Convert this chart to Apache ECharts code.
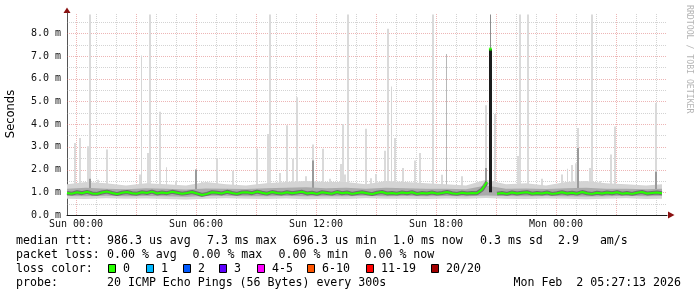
<!DOCTYPE html>
<html><head><meta charset="utf-8">
<script src="https://cdn.jsdelivr.net/npm/echarts@6/dist/echarts.min.js"></script>
<style>html,body{margin:0;padding:0;background:#fff}#c{width:697px;height:297px}</style>
</head><body><div id="c"></div><script>
// ---------- data ----------
const xTickHours = [0, 6, 12, 18, 24];
const xTickLabels = ['Sun 00:00', 'Sun 06:00', 'Sun 12:00', 'Sun 18:00', 'Mon 00:00'];
const yTickValues = [0, 1, 2, 3, 4, 5, 6, 7, 8];
const yTickUnit = ' m';
const yAxisTitle = 'Seconds';

// median rtt (ms), one value every 15 minutes starting Sat 23:33
const medianStartHour = -0.45;
const medianStepHours = 0.25;
const medianMs = [
  0.97, 0.94, 1.00, 0.96, 1.02, 0.95, 0.93, 0.99, 1.03, 0.97, 0.92, 0.98,
  1.01, 0.96, 0.94, 1.00, 0.97, 1.03, 0.95, 0.99, 0.96, 1.02, 0.98, 0.94,
  0.97, 1.01, 0.95, 0.88, 0.93, 1.00, 0.98, 0.95, 1.02, 0.97, 0.93, 0.99,
  1.00, 0.96, 1.03, 0.98, 0.94, 1.01, 0.97, 0.95, 1.00, 0.96, 0.99, 1.02,
  0.95, 0.98, 0.93, 1.00, 0.97, 0.94, 1.01, 0.96, 0.99, 0.93, 0.97, 1.00,
  0.96, 0.92, 0.98, 1.01, 0.95, 0.97, 0.94, 0.99, 0.96, 1.00, 0.93, 0.97,
  0.95, 0.99, 0.94, 0.97, 1.01, 0.96, 0.93, 0.98, 0.95, 0.97, 0.96, 1.12,
  1.45, null, 0.94, 0.97, 0.93, 0.99, 0.95, 0.98, 1.00, 0.94, 0.97, 0.95,
  0.99, 0.93, 0.96, 1.00, 0.95, 0.98, 0.94, 1.01, 0.96, 0.93, 0.98, 0.95,
  0.99, 0.96, 1.00, 0.94, 0.97, 0.93, 0.98, 1.01, 0.95, 0.97, 0.99, 0.96
];
// the one high median sample (hour, ms)
const medianPeak = [[20.72, 7.3]];
// dense smoke under the peak [hour, low, high]
const peakBar = [[20.72, 1.0, 7.3]];
const peakTail = [[20.72, 7.3, 8.82]];

// smoke bands (ms), sampled hourly
const smokeHours = [-0.45, 0.5, 1.5, 2.5, 3.5, 4.5, 5.5, 6.5, 7.5, 8.5, 9.5, 10.5, 11.5, 12.5, 13.5, 14.5,
  15.5, 16.5, 17.5, 18.5, 19.5, 20.5, 21.5, 22.5, 23.5, 24.5, 25.5, 26.5, 27.5, 28.5, 29.3];
const smokeOuterHigh = [1.35, 1.45, 1.40, 1.30, 1.40, 1.35, 1.30, 1.45, 1.35, 1.30, 1.40, 1.45, 1.50, 1.45, 1.45, 1.35,
  1.50, 1.45, 1.40, 1.35, 1.30, 1.55, 1.35, 1.40, 1.30, 1.45, 1.50, 1.40, 1.35, 1.30, 1.35];
const smokeOuterLow = [0.72, 0.70, 0.74, 0.71, 0.73, 0.70, 0.68, 0.72, 0.74, 0.71, 0.70, 0.73, 0.69, 0.72, 0.70, 0.74,
  0.71, 0.72, 0.70, 0.73, 0.71, 0.75, 0.72, 0.70, 0.73, 0.71, 0.69, 0.72, 0.74, 0.70, 0.72];
const smokeInnerHigh = [1.16, 1.20, 1.15, 1.13, 1.18, 1.15, 1.12, 1.17, 1.15, 1.14, 1.18, 1.20, 1.22, 1.18, 1.20, 1.15,
  1.20, 1.18, 1.16, 1.15, 1.13, 1.30, 1.15, 1.17, 1.14, 1.18, 1.20, 1.16, 1.15, 1.13, 1.15];
const smokeInnerLow = [0.84, 0.82, 0.85, 0.83, 0.84, 0.82, 0.80, 0.84, 0.85, 0.83, 0.82, 0.84, 0.82, 0.83, 0.82, 0.85,
  0.83, 0.84, 0.82, 0.84, 0.83, 0.86, 0.84, 0.82, 0.84, 0.83, 0.81, 0.83, 0.85, 0.82, 0.84];

// high ping outliers [hour, low ms, high ms]
const spikesWide = [
  [-0.07, 1.0, 3.17], [0.19, 1.0, 3.39], [0.6, 1.0, 3.03], [0.7, 1.0, 8.82], [1.08, 1.0, 1.55], [1.55, 1.0, 2.88],
  [3.2, 1.0, 1.78], [3.6, 1.0, 2.73], [3.7, 1.0, 8.82], [4.2, 1.0, 4.54], [5.0, 1.0, 1.5], [6.3, 1.0, 1.45],
  [7.07, 1.0, 2.48], [7.85, 1.0, 1.95], [9.07, 1.0, 2.92], [9.6, 1.0, 3.57], [9.7, 1.0, 8.82], [10.2, 1.0, 1.85],
  [10.57, 1.0, 3.95], [10.85, 1.0, 2.48], [11.07, 1.0, 5.18], [11.5, 1.0, 1.7], [11.85, 1.0, 3.1], [12.35, 1.0, 2.92],
  [12.7, 1.0, 1.6], [13.25, 1.0, 2.25], [13.35, 1.0, 4.0], [13.45, 1.0, 1.78], [13.6, 1.0, 8.82], [14.5, 1.0, 3.8],
  [14.75, 1.0, 1.62], [15.0, 1.0, 1.8], [15.45, 1.0, 2.83], [15.6, 1.0, 8.2], [15.95, 1.0, 3.39], [16.35, 1.0, 2.07],
  [16.95, 1.0, 2.4], [17.2, 1.0, 2.73], [17.85, 1.0, 8.82], [18.3, 1.0, 1.77], [19.3, 1.0, 1.7], [20.5, 1.0, 4.83],
  [20.95, 1.0, 4.45], [22.1, 1.0, 2.6], [22.2, 1.0, 8.82], [22.6, 1.0, 8.82], [23.3, 1.0, 1.6], [24.3, 1.0, 1.78],
  [24.8, 1.0, 2.2], [25.0, 1.0, 2.28], [25.1, 1.0, 3.83], [25.7, 1.0, 2.07], [25.8, 1.0, 8.82], [26.2, 1.0, 1.5],
  [26.75, 1.0, 2.66], [26.95, 1.0, 3.89], [29.0, 1.0, 4.93]
];
const spikesThin = [
  [3.28, 1.0, 7.02], [4.5, 1.0, 2.1], [15.75, 1.0, 5.65], [24.55, 1.0, 2.03]
];
const spikesGrey = [
  [18.5, 1.0, 7.09]
];
const spikesDark = [
  [6.0, 1.1, 2.0], [11.85, 1.1, 2.4], [20.5, 1.1, 2.07], [25.1, 1.1, 2.95], [29.0, 1.1, 1.9], [0.7, 1.1, 1.6]
];

// legend / text
const statsMedian = ['median rtt:', '986.3 us avg', '7.3 ms max', '696.3 us min', '1.0 ms now', '0.3 ms sd', '2.9   am/s'];
const statsLoss = ['packet loss:', '0.00 % avg', '0.00 % max', '0.00 % min', '0.00 % now'];
const lossTitle = 'loss color:';
const lossLabels = ['0', '1', '2', '3', '4-5', '6-10', '11-19', '20/20'];
const probeLine = ['probe:', '20 ICMP Echo Pings (56 Bytes) every 300s'];
const stampText = 'Mon Feb  2 05:27:13 2026';
const watermark = 'RRDTOOL / TOBI OETIKER';

// ---------- styling / layout ----------
const lossColors = ['#26ff00', '#00b8ff', '#0059ff', '#5e00ff', '#ff00ff', '#ff5500', '#ff0000', '#a10000'];
const MAJ = 'rgba(215,90,90,0.45)', MIN = 'rgba(150,150,150,0.42)';
const X_MIN = -0.45, X_MAX = 29.55, Y_MAX = 8.89;
const MONO = '"DejaVu Sans Mono", monospace';

const chart = echarts.init(document.getElementById('c'), null, { renderer: 'canvas', width: 697, height: 297 });

function vGrid(hours, color, z) {
  return { type: 'custom', z, silent: true, data: hours.map(h => [h, 0]),
    renderItem: (p, api) => {
      const a = api.coord([api.value(0), 0]), b = api.coord([api.value(0), Y_MAX]);
      const x = Math.round(a[0]) + 0.5;
      return { type: 'line', shape: { x1: x, y1: a[1], x2: x, y2: b[1] }, style: { stroke: color, lineWidth: 1, lineDash: [1, 1] } };
    } };
}
function hGrid(vals, color, z) {
  return { type: 'custom', z, silent: true, data: vals.map(v => [X_MIN, v]),
    renderItem: (p, api) => {
      const a = api.coord([X_MIN, api.value(1)]), b = api.coord([X_MAX, api.value(1)]);
      const y = Math.round(a[1]) + 0.5;
      return { type: 'line', shape: { x1: a[0], y1: y, x2: b[0], y2: y }, style: { stroke: color, lineWidth: 1, lineDash: [1, 1] } };
    } };
}
function spikeSeries(list, color, w, z) {
  return { type: 'custom', z, silent: true, data: list, encode: { x: 0, y: [1, 2] },
    renderItem: (p, api) => {
      const t = api.value(0);
      const lo = api.coord([t, api.value(1)]), hi = api.coord([t, api.value(2)]);
      const x = Math.round(lo[0] - w / 2);
      return { type: 'rect', shape: { x, y: hi[1], width: w, height: lo[1] - hi[1] }, style: { fill: color } };
    } };
}
function bandSeries(times, lo, hi, color, z) {
  return { type: 'custom', z, silent: true, data: [[times[0], lo[0]]],
    renderItem: (p, api) => {
      const pts = [];
      for (let i = 0; i < times.length; i++) pts.push(api.coord([times[i], hi[i]]));
      for (let i = times.length - 1; i >= 0; i--) pts.push(api.coord([times[i], lo[i]]));
      return { type: 'polygon', shape: { points: pts }, style: { fill: color } };
    } };
}

const majorHours = [], minorHours = [];
for (let h = 0; h <= 29; h++) (h % 3 === 0 ? majorHours : minorHours).push(h);
const majorVals = [], minorVals = [];
for (let v = 0.5; v <= 8.5; v += 0.5) (v % 1 === 0 ? majorVals : minorVals).push(v);

const medianData = medianMs.map((v, i) => [medianStartHour + i * medianStepHours, v]);

// legend graphics
const G = [];
function txt(x, y, s, align) {
  return { type: 'text', x, y, silent: true,
    style: { text: s, font: '11.6px ' + MONO, fill: '#000', align: align || 'left', verticalAlign: 'middle' } };
}
const medX = [16, 107, 207, 293, 393, 480, 558];
statsMedian.forEach((s, i) => G.push(txt(medX[i], 241, s)));
const lossX = [16, 107, 192.5, 278.5, 364.5];
statsLoss.forEach((s, i) => G.push(txt(lossX[i], 255, s)));
G.push(txt(16, 269, lossTitle));
const boxX = [108, 146, 183, 219, 257, 307, 366, 431];
lossLabels.forEach((s, i) => {
  G.push({ type: 'rect', silent: true, shape: { x: boxX[i] + 0.5, y: 264.5, width: 7, height: 8 },
    style: { fill: lossColors[i], stroke: '#000', lineWidth: 1 } });
  G.push(txt(boxX[i] + 15, 269, s));
});
G.push(txt(16, 283, probeLine[0]));
G.push(txt(107, 283, probeLine[1]));
G.push(txt(681, 283, stampText, 'right'));
// watermark
G.push({ type: 'text', x: 689, y: 5, rotation: -Math.PI / 2, silent: true,
  style: { text: watermark, font: '8.2px ' + MONO, fill: '#b4b4b4', align: 'left', verticalAlign: 'middle' } });
// axis arrows
G.push({ type: 'polygon', silent: true, shape: { points: [[63.5, 13], [70.5, 13], [67, 7.5]] }, style: { fill: '#8a1010' } });
G.push({ type: 'polygon', silent: true, shape: { points: [[668, 211.5], [668, 218.5], [674.5, 215]] }, style: { fill: '#8a1010' } });

chart.setOption({
  animation: false,
  backgroundColor: '#fff',
  grid: { left: 67, right: 30, top: 13, bottom: 82, containLabel: false, outerBoundsMode: 'none' },
  xAxis: {
    type: 'value', min: X_MIN, max: X_MAX,
    axisLine: { show: true, onZero: false, lineStyle: { color: '#1a1a1a', width: 1 } },
    axisTick: { show: false },
    splitLine: { show: false },
    axisLabel: {
      customValues: xTickHours, margin: 4, color: '#111', fontFamily: MONO, fontSize: 10,
      formatter: v => { const i = xTickHours.indexOf(v); return i >= 0 ? xTickLabels[i] : ''; }
    }
  },
  yAxis: {
    type: 'value', min: 0, max: Y_MAX,
    name: yAxisTitle, nameLocation: 'middle', nameGap: 50, nameRotate: 90,
    nameTextStyle: { fontFamily: '"DejaVu Sans", sans-serif', fontSize: 11.5, color: '#000' },
    axisLine: { show: true, onZero: false, lineStyle: { color: '#555', width: 1 } },
    axisTick: { show: false },
    splitLine: { show: false },
    axisLabel: {
      customValues: yTickValues, margin: 6, color: '#111', fontFamily: MONO, fontSize: 10,
      formatter: v => yTickValues.indexOf(v) >= 0 ? v.toFixed(1) + yTickUnit : ''
    }
  },
  series: [
    vGrid(minorHours, MIN, 1),
    vGrid(majorHours, MAJ, 1),
    hGrid(minorVals, MIN, 1),
    hGrid(majorVals, MAJ, 1),
    spikeSeries(spikesWide, '#dadada', 2, 2),
    spikeSeries(spikesThin, '#d6d6d6', 1, 2),
    spikeSeries(spikesGrey, '#b8b8b8', 1, 2),
    bandSeries(smokeHours, smokeOuterLow, smokeOuterHigh, '#d4d4d4', 3),
    spikeSeries(spikesDark, '#9a9a9a', 2, 4),
    bandSeries(smokeHours, smokeInnerLow, smokeInnerHigh, '#aaaaaa', 5),
    { type: 'line', z: 6, silent: true, data: medianData, symbol: 'none', connectNulls: false,
      lineStyle: { color: 'rgba(40,40,40,0.45)', width: 4 } },
    { type: 'line', z: 7, silent: true, data: medianData, symbol: 'none', connectNulls: false,
      lineStyle: { color: '#26ff00', width: 2 } },
    spikeSeries(peakTail, '#8c8c8c', 1, 8),
    spikeSeries(peakBar, '#1c1c1c', 3, 8),
    { type: 'scatter', z: 9, silent: true, data: medianPeak, symbol: 'rect', symbolSize: 3, itemStyle: { color: '#26ff00' } }
  ],
  graphic: G
});
</script></body></html>
